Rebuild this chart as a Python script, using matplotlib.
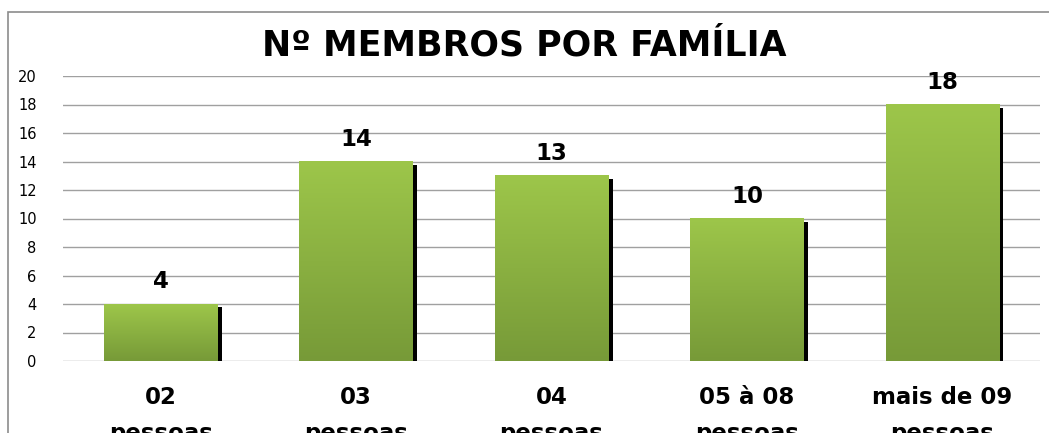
#!/usr/bin/env python3

import numpy as np
import matplotlib
matplotlib.use( 'Agg' )
import matplotlib.pyplot as plt
import matplotlib.patches as patches
import matplotlib.transforms as mtransforms
from matplotlib.colors import LinearSegmentedColormap

categorias = [ '02\npessoas', '03\npessoas', '04\npessoas',
               '05 à 08\npessoas', 'mais de 09\npessoas' ]
valores = [ 4, 14, 13, 10, 18 ]
yticks = [ 0, 2, 4, 6, 8, 10, 12, 14, 16, 18, 20 ]
titulo = 'Nº MEMBROS POR FAMÍLIA'

W, H, dpi = 1049, 433, 100
fig = plt.figure( figsize = ( W / dpi, H / dpi ), dpi = dpi )
fig.patch.set_facecolor( 'white' )

# outer chart frame (bottom and right fall outside the picture)
frame = patches.Rectangle( ( 7.5 / W, -0.2 ), 1.2, ( H - 11.5 ) / H + 0.2,
                           transform = fig.transFigure, fill = False,
                           edgecolor = '#8c8c8c', lw = 1.2 )
fig.patches.append( frame )

ax = fig.add_axes( [ 63 / W, 72 / H, ( 1040 - 63 ) / W, ( 361 - 76 ) / H ] )
ax.set_xlim( -0.5, len( valores ) - 0.5 )
ax.set_ylim( 0, 20 )
for s in ax.spines.values():
    s.set_visible( False )
ax.set_yticks( yticks )
ax.set_yticklabels( [ str( t ) for t in yticks ], fontsize = 10.5, family = 'DejaVu Sans' )
ax.tick_params( axis = 'y', length = 0, pad = 19 )
ax.set_xticks( [] )
for t in yticks:
    ax.axhline( t, color = '#a0a0a0', lw = 1.0, zorder = 1 )

x = np.arange( len( valores ) )
bw = 0.58

# shadow, shifted a few pixels right and down
sh = mtransforms.ScaledTranslation( 4.5 / dpi, -3 / dpi, fig.dpi_scale_trans )
ax.bar( x, valores, width = bw, color = 'black', zorder = 2,
        transform = ax.transData + sh )

cmap = LinearSegmentedColormap.from_list( 'verde', [ '#779a38', '#9dc64a' ] )
grad = np.linspace( 0, 1, 256 ).reshape( -1, 1 )
for xi, v in zip( x, valores ):
    ax.imshow( grad, cmap = cmap, origin = 'lower', aspect = 'auto',
               extent = [ xi - bw / 2, xi + bw / 2, 0, v ], zorder = 3 )
    ax.annotate( str( v ), ( xi, v ), xytext = ( 0, 11.5 ),
                 textcoords = 'offset points', ha = 'center', va = 'baseline',
                 fontsize = 16.5, fontweight = 'bold', family = 'DejaVu Sans' )
    ax.text( xi, -1.75, categorias[ xi ], ha = 'center', va = 'top',
             fontsize = 16.5, fontweight = 'bold', family = 'DejaVu Sans',
             linespacing = 1.75, clip_on = False )
ax.set_xlim( -0.5, len( valores ) - 0.5 )
ax.set_ylim( 0, 20 )

fig.text( 0.5, ( H - 46 ) / H, titulo, ha = 'center', va = 'center',
          fontsize = 25, fontweight = 'bold', family = 'DejaVu Sans' )

plt.savefig( 'out.png', dpi = dpi )
